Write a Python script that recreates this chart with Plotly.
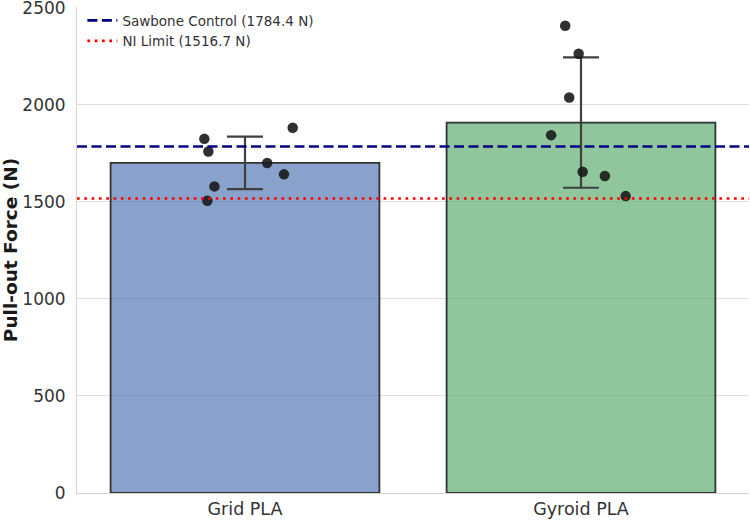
import plotly.graph_objects as go

categories = ["Grid PLA", "Gyroid PLA"]
means = [1700, 1908]
errors = [135, 336]
grid_points = [1824, 1759, 1579, 1505, 1700, 1641, 1881]
gyroid_points = [2406, 2262, 2037, 1843, 1654, 1633, 1529]
grid_jitter = [-0.121, -0.109, -0.091, -0.112, 0.066, 0.116, 0.142]
gyroid_jitter = [-0.047, -0.007, -0.035, -0.089, 0.005, 0.071, 0.133]
sawbone = 1784.4
ni_limit = 1516.7
y_ticks = [0, 500, 1000, 1500, 2000, 2500]

FONT = "DejaVu Sans"
xpos = list(range(len(categories)))

fig = go.Figure()
fig.add_trace(go.Bar(
    x=xpos, y=means, width=0.8,
    marker=dict(color=["rgba(76,114,176,0.66)", "rgba(85,168,104,0.66)"],
                line=dict(color="#333333", width=1.8)),
    error_y=dict(type="data", array=errors, color="#404040", thickness=2.2, width=18),
    showlegend=False, hoverinfo="skip",
))
for c, pts, jit in [(0, grid_points, grid_jitter), (1, gyroid_points, gyroid_jitter)]:
    fig.add_trace(go.Scatter(
        x=[c + j for j in jit], y=pts, mode="markers",
        marker=dict(color="rgba(25,25,25,0.9)", size=10.5, line=dict(width=0)),
        showlegend=False,
    ))
fig.add_trace(go.Scatter(
    x=[-0.5, 1.5], y=[sawbone, sawbone], mode="lines",
    line=dict(color="#000080", width=2.6, dash="10px,4.5px"),
    name=f"Sawbone Control ({sawbone} N)",
))
fig.add_trace(go.Scatter(
    x=[-0.5, 1.5], y=[ni_limit, ni_limit], mode="lines",
    line=dict(color="#ff0000", width=2.7, dash="2.7px,4.6px"),
    name=f"NI Limit ({ni_limit} N)",
))

fig.update_layout(
    width=750, height=521,
    margin=dict(l=77, r=1, t=7, b=28),
    plot_bgcolor="white", paper_bgcolor="white",
    font=dict(family=FONT, color="#333333", size=15),
    legend=dict(x=0.008, y=1.004, xanchor="left", yanchor="top",
                bgcolor="rgba(255,255,255,0.8)", borderwidth=0,
                font=dict(size=13.5, color="#333333")),
    xaxis=dict(range=[-0.5, 1.5], tickvals=xpos, ticktext=categories,
               showgrid=False, showline=True, linecolor="#d5d5d5", linewidth=1,
               ticks="", tickfont=dict(size=17.5), zeroline=False, fixedrange=True,
               automargin=False),
    yaxis=dict(range=[0, 2503], tickvals=y_ticks, showgrid=True, gridcolor="#dedede",
               gridwidth=1, showline=True, linecolor="#d5d5d5", linewidth=1,
               ticks="", tickfont=dict(size=17), zeroline=False, ticklabelstandoff=7,
               ticklabeloverflow="allow", automargin=False,
               title=dict(text="<b>Pull-out Force (N)</b>", font=dict(size=18.5, color="#1a1a1a"),
                          standoff=8)),
)

fig.write_html("out.html")
